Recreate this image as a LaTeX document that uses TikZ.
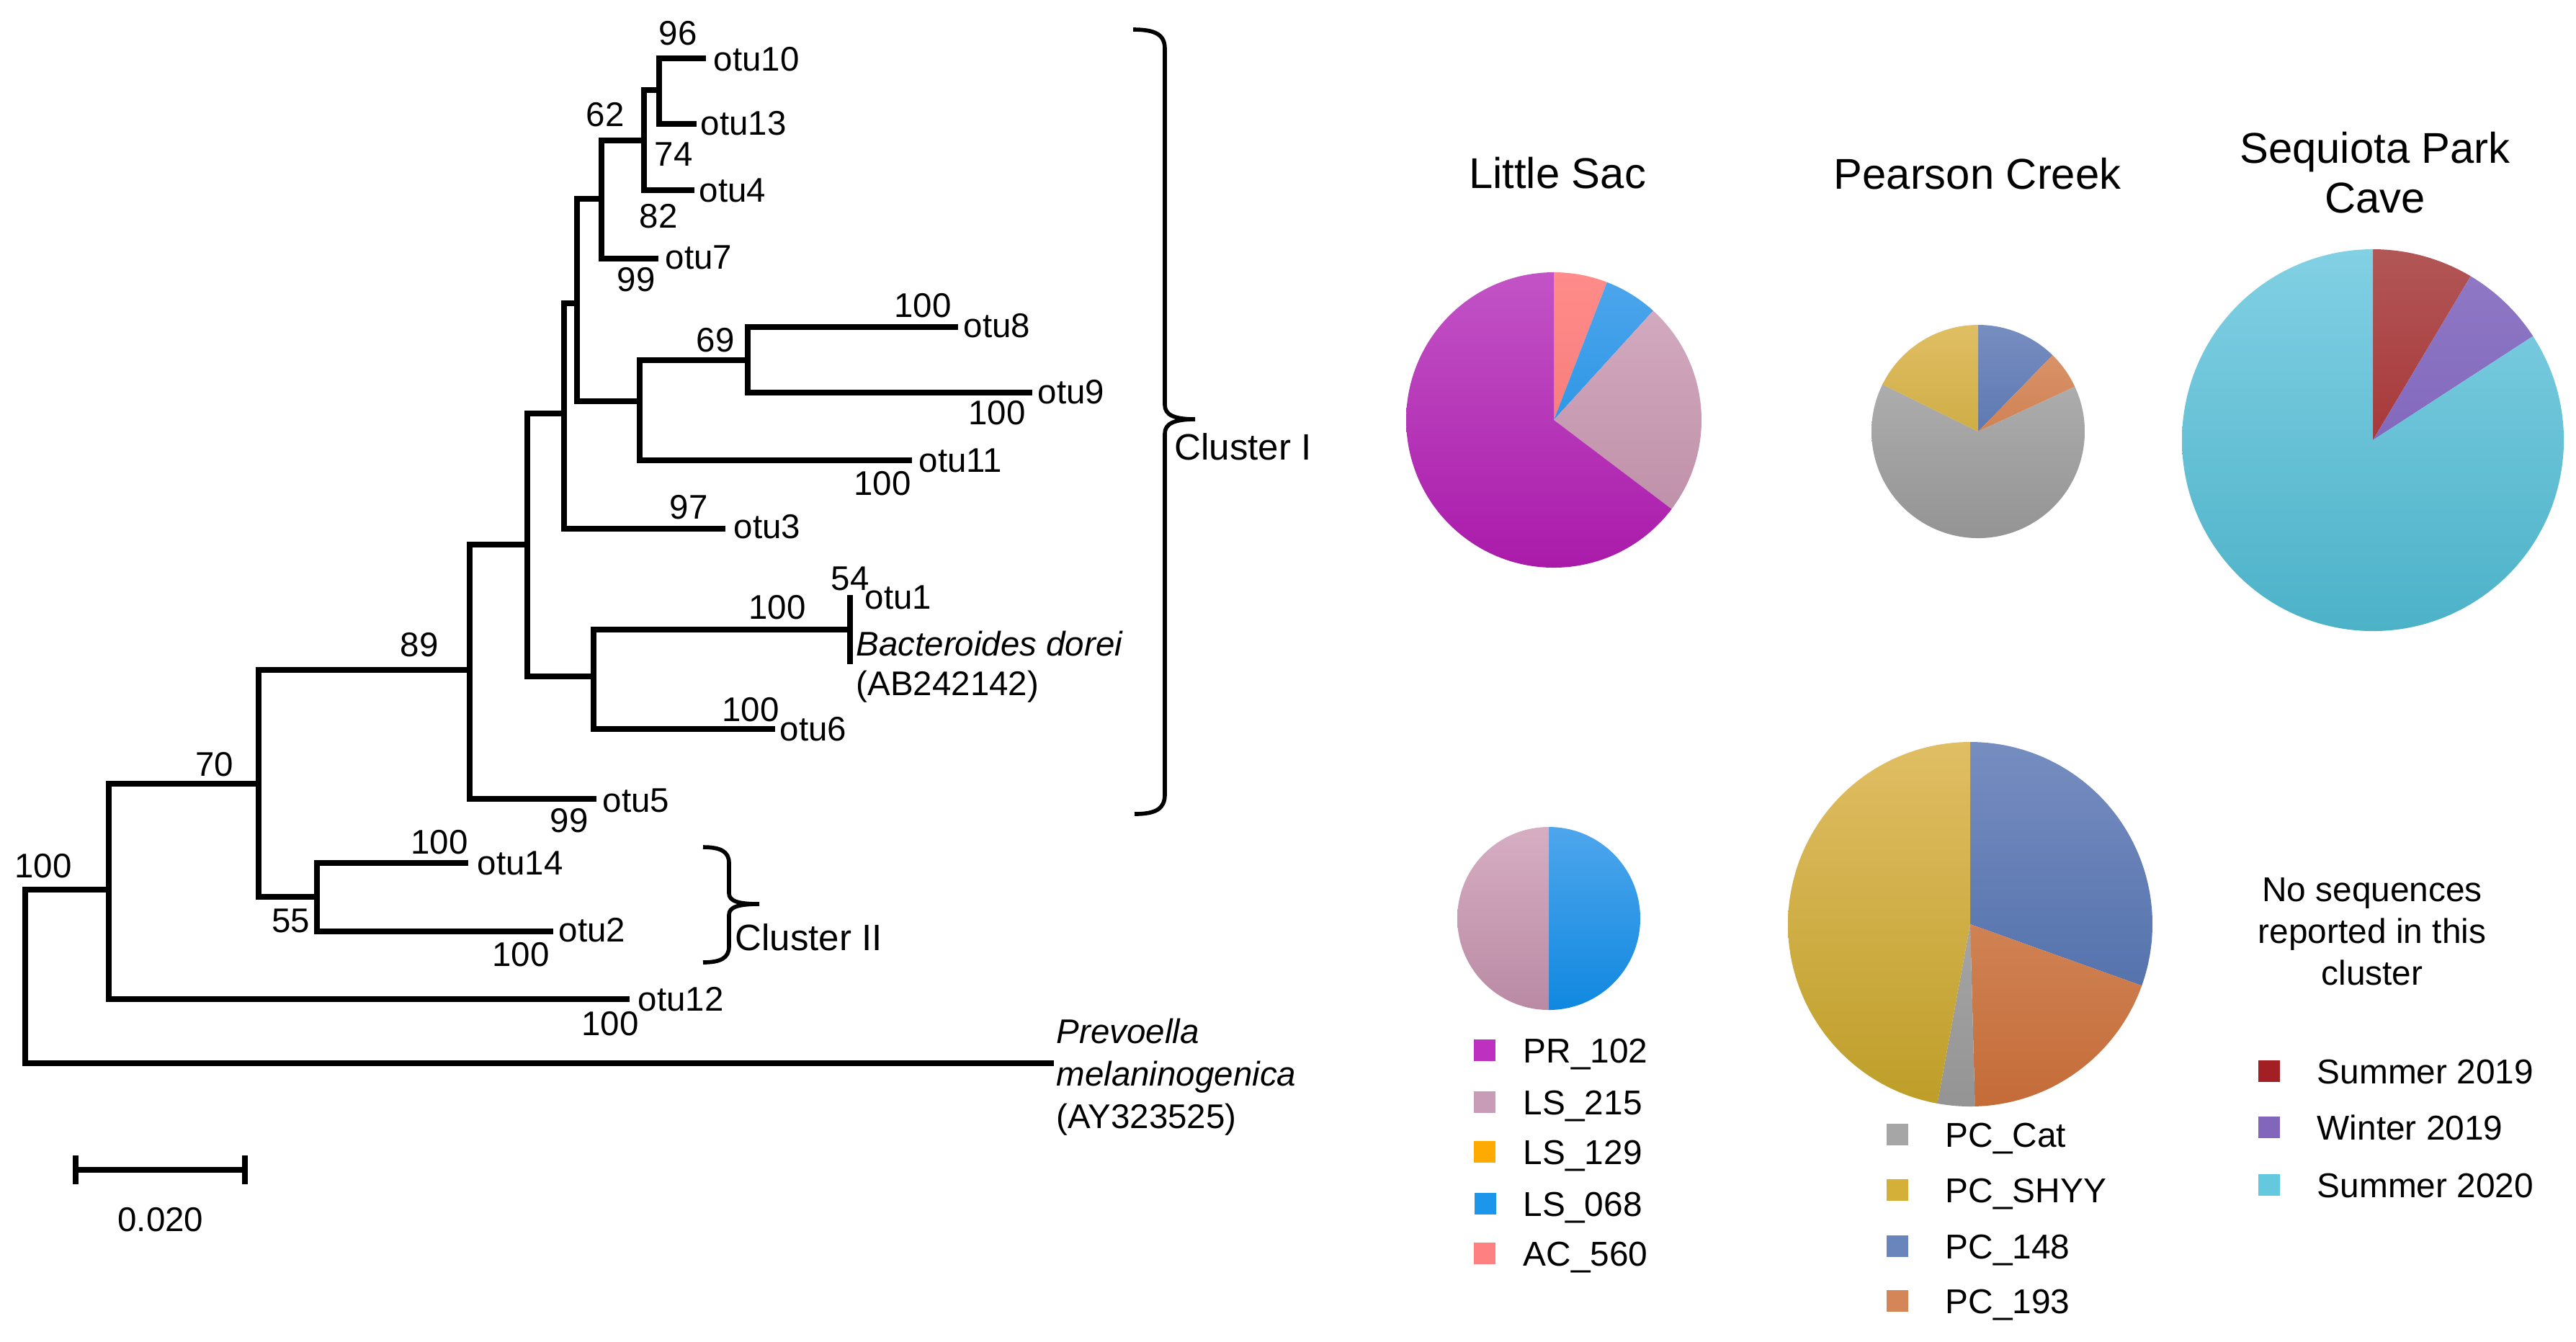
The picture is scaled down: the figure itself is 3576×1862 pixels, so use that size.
\documentclass[tikz,border=0pt]{standalone}
\usepackage{fontspec}
\setmainfont{Liberation Sans}

\definecolor{prTop}{RGB}{194,84,198}
\definecolor{prBot}{RGB}{170,26,170}
\definecolor{lsmTop}{RGB}{214,174,194}
\definecolor{lsmBot}{RGB}{186,138,164}
\definecolor{lsbTop}{RGB}{78,166,236}
\definecolor{lsbBot}{RGB}{16,136,224}
\definecolor{acTop}{RGB}{255,140,138}
\definecolor{acBot}{RGB}{238,112,112}
\definecolor{pcgTop}{RGB}{182,182,182}
\definecolor{pcgBot}{RGB}{148,148,148}
\definecolor{pcyTop}{RGB}{224,190,100}
\definecolor{pcyBot}{RGB}{190,158,40}
\definecolor{pcbTop}{RGB}{118,141,192}
\definecolor{pcbBot}{RGB}{70,102,164}
\definecolor{pcoTop}{RGB}{220,152,112}
\definecolor{pcoBot}{RGB}{196,108,56}
\definecolor{suaTop}{RGB}{178,86,86}
\definecolor{suaBot}{RGB}{158,28,30}
\definecolor{wiTop}{RGB}{144,122,198}
\definecolor{wiBot}{RGB}{118,88,180}
\definecolor{subTop}{RGB}{130,208,228}
\definecolor{subBot}{RGB}{76,178,200}

\definecolor{prLeg}{RGB}{190,48,192}
\definecolor{lsmLeg}{RGB}{200,156,182}
\definecolor{lsoLeg}{RGB}{255,170,0}
\definecolor{lsbLeg}{RGB}{28,150,234}
\definecolor{acLeg}{RGB}{255,128,128}
\definecolor{pcgLeg}{RGB}{166,166,166}
\definecolor{pcyLeg}{RGB}{212,176,56}
\definecolor{pcbLeg}{RGB}{106,132,188}
\definecolor{pcoLeg}{RGB}{212,134,88}
\definecolor{suaLeg}{RGB}{162,32,36}
\definecolor{wiLeg}{RGB}{130,102,188}
\definecolor{subLeg}{RGB}{100,200,222}

% centre x, centre y, radius, start angle, end angle, colour prefix
\newcommand{\pieslice}[6]{%
  \begin{scope}
    \clip (#1,#2) -- ++(#4:#3) arc[start angle=#4, end angle=#5, radius=#3] -- cycle;
    \shade[top color=#6Top, bottom color=#6Bot] (#1-#3,#2-#3) rectangle (#1+#3,#2+#3);
  \end{scope}}

\begin{document}
\begin{tikzpicture}[x=0.01cm, y=0.01cm,
    branch/.style={line width=2.5pt},
    boot/.style={font=\fontsize{13.5}{16}\selectfont, inner sep=0pt, text height=9.7pt, text depth=0pt},
    leaf/.style={boot, anchor=west},
    clus/.style={font=\fontsize{14.5}{17}\selectfont, inner sep=0pt, text height=10.4pt, text depth=0pt, anchor=west},
    bracket/.style={line width=1.6pt},
    title/.style={font=\fontsize{17}{19.6}\selectfont, inner sep=0pt},
    legtext/.style={font=\fontsize{13.6}{16.5}\selectfont, inner sep=0pt, text height=9.7pt, text depth=0pt, anchor=west},
    swatch/.style={minimum size=0.3cm, inner sep=0pt}]
\useasboundingbox (0,0) rectangle (3576,-1862);

\coordinate (root) at (35,-1235);
\coordinate (nA) at (151,-1235);
\coordinate (nB) at (359,-1088);
\coordinate (nC) at (652,-930);
\coordinate (nD) at (440,-1245);
\coordinate (nE) at (732,-756);
\coordinate (nF) at (783,-574);
\coordinate (nG) at (824,-939);
\coordinate (nH) at (801,-421);
\coordinate (nI) at (835,-276);
\coordinate (nJ) at (888,-557);
\coordinate (nK) at (894,-195);
\coordinate (nL) at (915,-125);
\coordinate (nM) at (1038,-500);
\coordinate (nN) at (1180,-874);

\coordinate (e10) at (980,-81);
\coordinate (e13) at (967,-172);
\coordinate (e4) at (964,-264);
\coordinate (e7) at (914,-359);
\coordinate (e8) at (1330,-454);
\coordinate (e9) at (1433,-545);
\coordinate (e11) at (1266,-639);
\coordinate (e3) at (1007,-734);
\coordinate (e1) at (1180,-826);
\coordinate (eBd) at (1180,-922);
\coordinate (e6) at (1076,-1012);
\coordinate (e5) at (828,-1109);
\coordinate (e14) at (650,-1198);
\coordinate (e2) at (768,-1293);
\coordinate (e12) at (874,-1387);
\coordinate (ePm) at (1463,-1476);

\draw[branch] (nA) -- (root) |- (ePm);
\draw[branch] (nA) |- (nB);
\draw[branch] (nA) |- (e12);
\draw[branch] (nB) |- (nC);
\draw[branch] (nB) |- (nD);
\draw[branch] (nD) |- (e14);
\draw[branch] (nD) |- (e2);
\draw[branch] (nC) |- (nE);
\draw[branch] (nC) |- (e5);
\draw[branch] (nE) |- (nF);
\draw[branch] (nE) |- (nG);
\draw[branch] (nF) |- (nH);
\draw[branch] (nF) |- (e3);
\draw[branch] (nH) |- (nI);
\draw[branch] (nH) |- (nJ);
\draw[branch] (nI) |- (nK);
\draw[branch] (nI) |- (e7);
\draw[branch] (nK) |- (nL);
\draw[branch] (nK) |- (e4);
\draw[branch] (nL) |- (e10);
\draw[branch] (nL) |- (e13);
\draw[branch] (nJ) |- (nM);
\draw[branch] (nJ) |- (e11);
\draw[branch] (nM) |- (e8);
\draw[branch] (nM) |- (e9);
\draw[branch] (nG) |- (nN);
\draw[branch] (nG) |- (e6);
\draw[branch] (nN) -- (e1);
\draw[branch] (nN) -- (eBd);

\node[leaf] (otu10) at (990,-81) {otu10};
\node[leaf] (otu13) at (972,-170) {otu13};
\node[leaf] (otu4) at (970,-263) {otu4};
\node[leaf] (otu7) at (923,-356) {otu7};
\node[leaf] (otu8) at (1337,-451) {otu8};
\node[leaf] (otu9) at (1440,-543) {otu9};
\node[leaf] (otu11) at (1275,-638) {otu11};
\node[leaf] (otu3) at (1018,-730) {otu3};
\node[leaf] (otu1) at (1200,-828) {otu1};
\node[font=\fontsize{13.5}{15.6}\selectfont, inner sep=0pt, anchor=west, align=left] (bdorei) at (1188,-926) {\textit{Bacteroides dorei}\\(AB242142)};
\node[leaf] (otu6) at (1082,-1011) {otu6};
\node[leaf] (otu5) at (836,-1110) {otu5};
\node[leaf] (otu14) at (662,-1197) {otu14};
\node[leaf] (otu2) at (775,-1290) {otu2};
\node[leaf] (otu12) at (885,-1386) {otu12};
\node[font=\fontsize{13.5}{16.8}\selectfont, inner sep=0pt, anchor=west, align=left] (pmel) at (1466,-1495) {\textit{Prevoella}\\\textit{melaninogenica}\\(AY323525)};

\node[boot] (b96) at (941,-45) {96};
\node[boot] (b62) at (840,-158) {62};
\node[boot] (b74) at (935,-213) {74};
\node[boot] (b82) at (914,-299) {82};
\node[boot] (b99a) at (883,-387) {99};
\node[boot] (b69) at (993,-471) {69};
\node[boot] (b100a) at (1281,-423) {100};
\node[boot] (b100b) at (1384,-572) {100};
\node[boot] (b100c) at (1225,-670) {100};
\node[boot] (b97) at (956,-703) {97};
\node[boot] (b54) at (1180,-802) {54};
\node[boot] (b100d) at (1079,-842) {100};
\node[boot] (b100e) at (1042,-984) {100};
\node[boot] (b89) at (582,-894) {89};
\node[boot] (b99b) at (790,-1138) {99};
\node[boot] (b70) at (298,-1060) {70};
\node[boot] (b100f) at (610,-1168) {100};
\node[boot] (b55) at (404,-1277) {55};
\node[boot] (b100g) at (723,-1324) {100};
\node[boot] (b100h) at (847,-1420) {100};
\node[boot] (b100i) at (60,-1201) {100};

\draw[bracket] (1573,-41) .. controls (1604,-41) and (1617,-48) .. (1617,-68) -- (1617,-562)
  .. controls (1617,-576) and (1630,-582) .. (1659,-582)
  .. controls (1630,-582) and (1617,-588) .. (1617,-602) -- (1617,-1103)
  .. controls (1617,-1123) and (1604,-1130) .. (1575,-1130);
\node[clus] (cl1) at (1630,-620) {Cluster I};
\draw[bracket] (976,-1176) .. controls (1000,-1176) and (1012,-1182) .. (1012,-1198) -- (1012,-1240)
  .. controls (1012,-1251) and (1025,-1255) .. (1054,-1255)
  .. controls (1025,-1255) and (1012,-1259) .. (1012,-1270) -- (1012,-1314)
  .. controls (1012,-1330) and (1000,-1336) .. (976,-1336);
\node[clus] (cl2) at (1020,-1301) {Cluster II};

\coordinate (sb0) at (105,-1624);
\coordinate (sb1) at (340,-1624);
\draw[branch] (sb0) -- (sb1);
\draw[branch] (sb0) ++(0,20) -- ++(0,-40);
\draw[branch] (sb1) ++(0,20) -- ++(0,-40);
\node[boot] (sblbl) at (223,-1692) {0.020};

\node[title, text height=12.2pt, text depth=0pt] (tls) at (2162,-240) {Little Sac};
\node[title, text height=12.2pt, text depth=0pt] (tpc) at (2745,-241) {Pearson Creek};
\node[title, align=center] (tsp) at (3297,-240) {Sequiota Park\\Cave};

\pieslice{2157}{-583}{205}{90}{68.9}{ac}
\pieslice{2157}{-583}{205}{68.9}{47.7}{lsb}
\pieslice{2157}{-583}{205}{47.7}{-37.1}{lsm}
\pieslice{2157}{-583}{205}{-37.1}{-270}{pr}

\pieslice{2746}{-599}{148}{90}{45.7}{pcb}
\pieslice{2746}{-599}{148}{45.7}{24.9}{pco}
\pieslice{2746}{-599}{148}{24.9}{-206.2}{pcg}
\pieslice{2746}{-599}{148}{153.8}{90}{pcy}

\pieslice{3294}{-611}{265}{90}{59.2}{sua}
\pieslice{3294}{-611}{265}{59.2}{33}{wi}
\pieslice{3294}{-611}{265}{33}{-270}{sub}

\pieslice{2150}{-1275}{127}{90}{-90}{lsb}
\pieslice{2150}{-1275}{127}{-90}{-270}{lsm}

\pieslice{2735}{-1283}{253}{90}{-19.7}{pcb}
\pieslice{2735}{-1283}{253}{-19.7}{-88.5}{pco}
\pieslice{2735}{-1283}{253}{-88.5}{-100.4}{pcg}
\pieslice{2735}{-1283}{253}{-100.4}{-270}{pcy}

\node[swatch, fill=prLeg] (kpr) at (2061,-1458) {};
\node[legtext] (lpr) at (2114,-1458) {PR\_102};
\node[swatch, fill=lsmLeg] (klsm) at (2061,-1530) {};
\node[legtext] (llsm) at (2114,-1530) {LS\_215};
\node[swatch, fill=lsoLeg] (klso) at (2061,-1599) {};
\node[legtext] (llso) at (2114,-1599) {LS\_129};
\node[swatch, fill=lsbLeg] (klsb) at (2062,-1671) {};
\node[legtext] (llsb) at (2114,-1671) {LS\_068};
\node[swatch, fill=acLeg] (kac) at (2061,-1740) {};
\node[legtext] (lac) at (2114,-1740) {AC\_560};

\node[swatch, fill=pcgLeg] (kpcg) at (2634,-1575) {};
\node[legtext] (lpcg) at (2700,-1575) {PC\_Cat};
\node[swatch, fill=pcyLeg] (kpcy) at (2634,-1652) {};
\node[legtext] (lpcy) at (2700,-1652) {PC\_SHYY};
\node[swatch, fill=pcbLeg] (kpcb) at (2634,-1730) {};
\node[legtext] (lpcb) at (2700,-1730) {PC\_148};
\node[swatch, fill=pcoLeg] (kpco) at (2634,-1806) {};
\node[legtext] (lpco) at (2700,-1806) {PC\_193};

\node[font=\fontsize{13.6}{16.5}\selectfont, inner sep=0pt, align=center] (noseq) at (3293,-1293) {No sequences\\reported in this\\cluster};
\node[swatch, fill=suaLeg] (ksua) at (3150,-1487) {};
\node[legtext] (lsua) at (3216,-1487) {Summer 2019};
\node[swatch, fill=wiLeg] (kwi) at (3150,-1565) {};
\node[legtext] (lwi) at (3216,-1565) {Winter 2019};
\node[swatch, fill=subLeg] (ksub) at (3150,-1645) {};
\node[legtext] (lsub) at (3216,-1645) {Summer 2020};
\end{tikzpicture}
\end{document}
